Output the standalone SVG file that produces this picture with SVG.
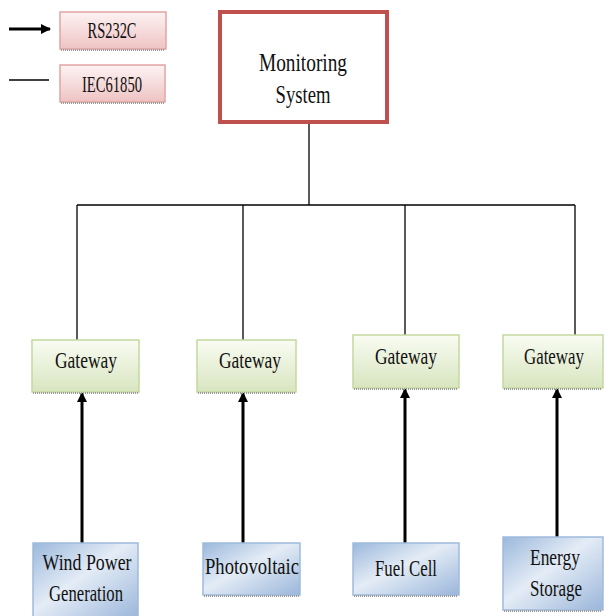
<svg xmlns="http://www.w3.org/2000/svg" width="604" height="616" viewBox="0 0 604 616">
<defs>
<linearGradient id="gPink" x1="0" y1="0" x2="0" y2="1"><stop offset="0" stop-color="#fdf3f3"/><stop offset="1" stop-color="#efc3c3"/></linearGradient>
<linearGradient id="gGreen" x1="0" y1="0" x2="0" y2="1"><stop offset="0" stop-color="#f9fcf3"/><stop offset="1" stop-color="#d8e5bf"/></linearGradient>
<linearGradient id="gBlue" x1="0" y1="0" x2="1" y2="1"><stop offset="0" stop-color="#9bb8dc"/><stop offset="0.45" stop-color="#e4ecf6"/><stop offset="1" stop-color="#9ab6da"/></linearGradient>
<marker id="ah" viewBox="0 0 10 10" refX="9" refY="5" markerWidth="3.4" markerHeight="3.4" orient="auto" markerUnits="strokeWidth"><path d="M0,0 L10,5 L0,10 z" fill="#000"/></marker>
</defs>
<style>
.t{font-family:"Liberation Serif","Times New Roman",serif;fill:#111;text-anchor:middle}
.pink{fill:url(#gPink);stroke:#e3a4a4;stroke-width:1.5}
.green{fill:url(#gGreen);stroke:#c5d89e;stroke-width:1.5}
.blue{fill:url(#gBlue);stroke:#9fbadc;stroke-width:1.5}
.sh{stroke:#9a9a9a;stroke-width:2;stroke-dasharray:1 1;fill:none}
.ln{stroke:#000;stroke-width:1.3;fill:none}
.ar{stroke:#000;stroke-width:3;fill:none;marker-end:url(#ah)}
</style>
<g id="legend-rs232c">
<line x1="9" y1="29" x2="50" y2="29" class="ar" stroke-width="2.5"/>
<rect x="60" y="12" width="106" height="37" class="pink"/>
<line x1="61" y1="50" x2="165" y2="50" class="sh"/>
<text x="112" y="38" class="t" font-size="23" textLength="49" lengthAdjust="spacingAndGlyphs">RS232C</text>
</g>
<g id="legend-iec61850">
<line x1="9" y1="80" x2="49" y2="80" class="ln"/>
<rect x="60" y="65" width="105" height="37" class="pink"/>
<line x1="61" y1="103" x2="164" y2="103" class="sh"/>
<text x="112" y="92" class="t" font-size="23" textLength="60" lengthAdjust="spacingAndGlyphs">IEC61850</text>
</g>
<g id="connectors">
<line x1="309" y1="123" x2="309" y2="205" class="ln"/>
<line x1="77" y1="205" x2="575" y2="205" class="ln"/>
<line x1="77" y1="205" x2="77" y2="340" class="ln"/>
<line x1="243" y1="205" x2="243" y2="340" class="ln"/>
<line x1="405" y1="205" x2="405" y2="335" class="ln"/>
<line x1="575" y1="205" x2="575" y2="335" class="ln"/>
<line x1="82" y1="543" x2="82" y2="393" class="ar"/>
<line x1="243" y1="543" x2="243" y2="393" class="ar"/>
<line x1="405" y1="543" x2="405" y2="389" class="ar"/>
<line x1="557" y1="537" x2="557" y2="389" class="ar"/>
</g>
<g id="monitoring">
<rect x="220" y="12" width="167" height="110" fill="#fff" stroke="#c0504d" stroke-width="4"/>
<text x="303" y="71" class="t" font-size="26" textLength="88" lengthAdjust="spacingAndGlyphs">Monitoring</text>
<text x="303" y="103" class="t" font-size="26" textLength="55" lengthAdjust="spacingAndGlyphs">System</text>
</g>
<g id="gateway1">
<rect x="32" y="340" width="107" height="52" class="green"/>
<line x1="33" y1="393" x2="138" y2="393" class="sh"/>
<text x="86" y="368" class="t" font-size="23" textLength="62" lengthAdjust="spacingAndGlyphs">Gateway</text>
</g>
<g id="gateway2">
<rect x="197" y="340" width="99" height="52" class="green"/>
<line x1="198" y1="393" x2="295" y2="393" class="sh"/>
<text x="250" y="368" class="t" font-size="23" textLength="62" lengthAdjust="spacingAndGlyphs">Gateway</text>
</g>
<g id="gateway3">
<rect x="353" y="335" width="106" height="53" class="green"/>
<line x1="354" y1="389" x2="458" y2="389" class="sh"/>
<text x="406" y="364" class="t" font-size="23" textLength="62" lengthAdjust="spacingAndGlyphs">Gateway</text>
</g>
<g id="gateway4">
<rect x="503" y="335" width="100" height="53" class="green"/>
<line x1="504" y1="389" x2="602" y2="389" class="sh"/>
<text x="554" y="364" class="t" font-size="23" textLength="60" lengthAdjust="spacingAndGlyphs">Gateway</text>
</g>
<g id="wind">
<rect x="33" y="543" width="105" height="76" class="blue"/>
<text x="87" y="570" class="t" font-size="24" textLength="89" lengthAdjust="spacingAndGlyphs">Wind Power</text>
<text x="86" y="601" class="t" font-size="24" textLength="74" lengthAdjust="spacingAndGlyphs">Generation</text>
</g>
<g id="photovoltaic">
<rect x="203" y="543" width="97" height="52" class="blue"/>
<line x1="204" y1="596" x2="299" y2="596" class="sh"/>
<text x="252" y="574" class="t" font-size="24" textLength="94" lengthAdjust="spacingAndGlyphs">Photovoltaic</text>
</g>
<g id="fuelcell">
<rect x="353" y="543" width="106" height="52" class="blue"/>
<line x1="354" y1="596" x2="458" y2="596" class="sh"/>
<text x="406" y="576" class="t" font-size="24" textLength="62" lengthAdjust="spacingAndGlyphs">Fuel Cell</text>
</g>
<g id="energy">
<rect x="503" y="537" width="100" height="73" class="blue"/>
<line x1="504" y1="611" x2="602" y2="611" class="sh"/>
<text x="555" y="565" class="t" font-size="24" textLength="50" lengthAdjust="spacingAndGlyphs">Energy</text>
<text x="556" y="596" class="t" font-size="24" textLength="52" lengthAdjust="spacingAndGlyphs">Storage</text>
</g>
</svg>
